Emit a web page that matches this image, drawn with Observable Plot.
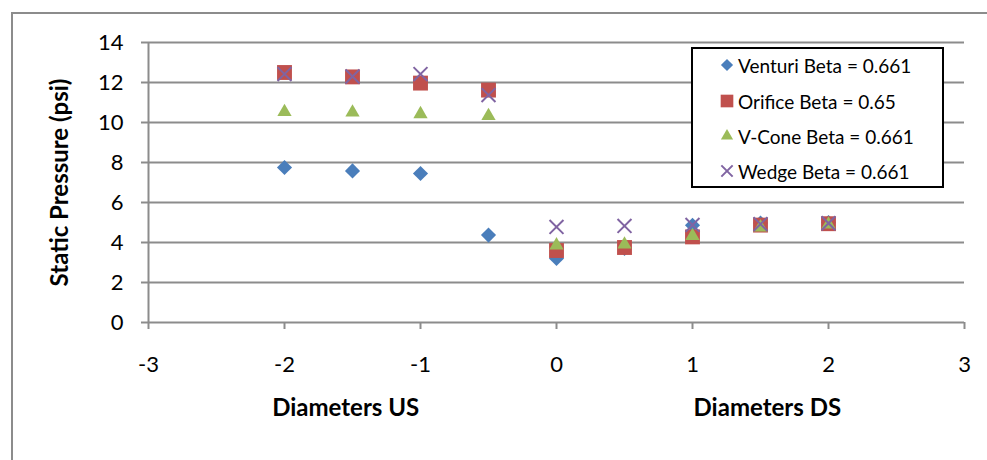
<!DOCTYPE html>
<html>
<head>
<meta charset="utf-8">
<script src="https://cdn.jsdelivr.net/npm/d3@7"></script>
<script src="https://cdn.jsdelivr.net/npm/@observablehq/plot@0.6"></script>
<style>
  body { margin: 0; background: #fff; }
  #wrap { position: relative; width: 987px; height: 460px; overflow: hidden; font-family: Lato, sans-serif; }
  #edge { position: absolute; left: 11px; top: 12px; width: 1000px; height: 500px;
          border-left: 2px solid #8c8c8c; border-top: 2px solid #8c8c8c; box-sizing: border-box; }
  #chart { position: absolute; left: 0; top: 0; }
  #legend { position: absolute; left: 691px; top: 47px; width: 253px; height: 141px;
            border: 2px solid #000; background: #fff; box-sizing: border-box; }
  .row { position: absolute; left: 0; height: 20px; display: flex; align-items: center;
         font-size: 19px; color: #000; white-space: nowrap; }
  .row svg { margin-left: 26px; margin-right: 3px; }
</style>
</head>
<body>
<div id="wrap"><div id="edge"></div><div id="chart"></div><div id="legend"></div></div>
<script>
// Static pressure readings at pipe-diameter stations up- and downstream of each meter
const positions = [-2, -1.5, -1, -0.5, 0, 0.5, 1, 1.5, 2];
const venturi = [7.75, 7.58, 7.45, 4.37, 3.2, 3.7, 4.86, 4.97, 5.0];
const orifice = [12.5, 12.28, 11.97, 11.62, 3.6, 3.75, 4.28, 4.87, 4.94];
const vcone   = [10.53, 10.5, 10.42, 10.33, 3.86, 3.9, 4.33, 4.76, 4.9];
const wedge   = [12.42, 12.3, 12.42, 11.37, 4.78, 4.83, 4.88, 4.92, 4.96];

const seriesNames = ["Venturi Beta = 0.661", "Orifice Beta = 0.65", "V-Cone Beta = 0.661", "Wedge Beta = 0.661"];
const xTicks = [-3, -2, -1, 0, 1, 2, 3];
const yTicks = [0, 2, 4, 6, 8, 10, 12, 14];
const sideLabels = [{x: -1.55, text: "Diameters US"}, {x: 1.55, text: "Diameters DS"}];
const yTitle = "Static Pressure (psi)";

const styles = [
  {symbol: "diamond2", d3sym: d3.symbolDiamond2, color: "#4a7ebb", r: 6.8, lsize: 95, values: venturi},
  {symbol: "square",   d3sym: d3.symbolSquare,   color: "#c0504d", r: 8.4, lsize: 160, values: orifice},
  {symbol: "triangle", d3sym: d3.symbolTriangle, color: "#9bbb59", r: 5.3, lsize: 64, values: vcone},
  {symbol: "times",    d3sym: d3.symbolTimes,    color: "#8064a2", r: 6.4, lsize: 85, values: wedge, stroked: true}
];

const gray = "#8c8c8c";

const dotMarks = styles.map((s, k) => {
  const data = positions.map((p, i) => ({x: p, y: s.values[i]}));
  return s.stroked
    ? Plot.dot(data, {x: "x", y: "y", symbol: s.symbol, r: s.r, stroke: s.color, strokeWidth: 2, fill: "none"})
    : Plot.dot(data, {x: "x", y: "y", symbol: s.symbol, r: s.r, fill: s.color, stroke: "none"});
});

const chart = Plot.plot({
  width: 987,
  height: 460,
  marginLeft: 148,
  marginRight: 23,
  marginTop: 42,
  marginBottom: 138,
  style: {fontFamily: "Lato, sans-serif", fontSize: "22px", color: "#000", background: "transparent"},
  x: {domain: [-3, 3]},
  y: {domain: [0, 14]},
  marks: [
    Plot.gridY(yTicks.filter(d => d > 0), {stroke: gray, strokeOpacity: 1, strokeWidth: 2}),
    Plot.ruleY([0], {stroke: gray, strokeWidth: 2}),
    Plot.ruleX([-3], {stroke: gray, strokeWidth: 2}),
    Plot.axisX(xTicks, {tickSize: 7, tickPadding: 27, stroke: gray, strokeWidth: 2, fill: "#000", fontSize: 22, label: null, tickFormat: d => d}),
    Plot.axisY(yTicks, {tickSize: 7, tickPadding: 18, stroke: gray, strokeWidth: 2, fill: "#000", fontSize: 22, label: null}),
    Plot.text([yTitle], {frameAnchor: "left", textAnchor: "middle", lineAnchor: "middle", dx: -88, rotate: -90, text: d => d, fontWeight: "bold", fontSize: 24, fill: "#000"}),
    Plot.text(sideLabels, {x: "x", frameAnchor: "bottom", dy: 93, text: "text", fontWeight: "bold", fontSize: 24, fill: "#000"}),
    ...dotMarks
  ]
});
document.getElementById("chart").append(chart);

// Legend box with the four series
const legend = d3.select("#legend");
const rowCenters = [16, 52, 87, 122];
styles.forEach((s, k) => {
  const row = legend.append("div").attr("class", "row").style("top", (rowCenters[k] - 10) + "px");
  const svg = row.append("svg").attr("width", 16).attr("height", 16);
  const path = svg.append("path")
    .attr("transform", "translate(8,8)")
    .attr("d", d3.symbol(s.d3sym, s.lsize)());
  if (s.stroked) path.attr("fill", "none").attr("stroke", s.color).attr("stroke-width", 2);
  else path.attr("fill", s.color);
  row.append("span").text(seriesNames[k]);
});
</script>
</body>
</html>
